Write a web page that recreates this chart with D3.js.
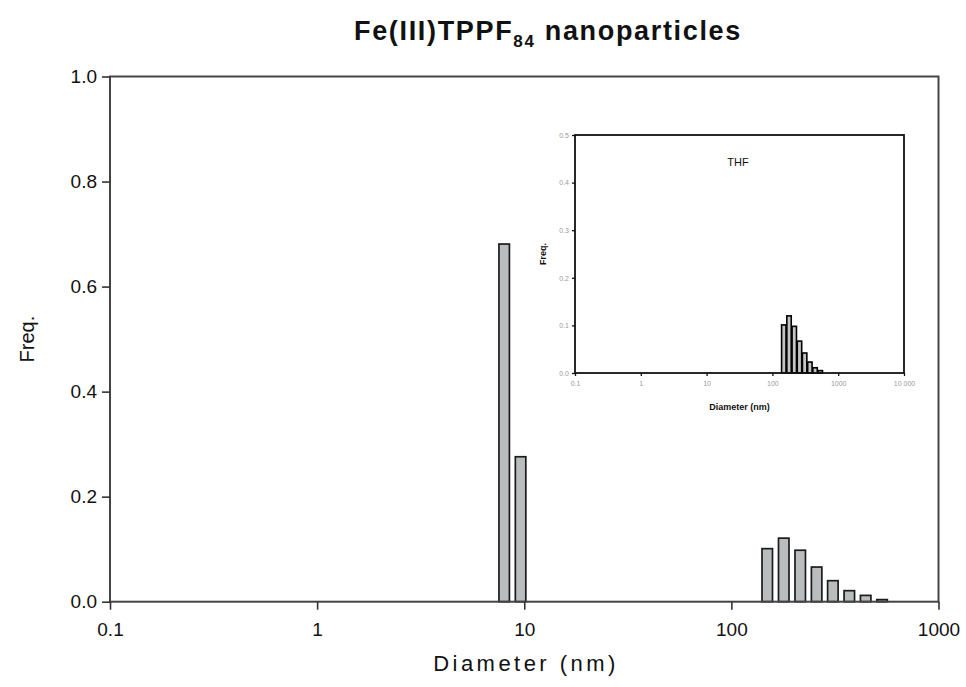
<!DOCTYPE html>
<html><head><meta charset="utf-8">
<script src="https://cdn.jsdelivr.net/npm/d3@7"></script>
<style>body{margin:0;background:#fff}svg{display:block}text{font-family:"Liberation Sans",Arial,sans-serif}</style>
</head><body><svg id="c" width="966" height="687"></svg>
<script>
// ---- data ----
const diameters = [8.0, 9.6, 149, 179, 215, 258, 309, 371, 445, 534];
const freqMain = [0.681, 0.276, 0.101, 0.121, 0.098, 0.066, 0.040, 0.021, 0.012, 0.004];
const insetDiameters = [149, 179, 215, 258, 309, 371, 445, 534];
const freqInset = [0.101, 0.120, 0.098, 0.067, 0.042, 0.023, 0.011, 0.005];
const mainXTicks = [0.1, 1, 10, 100, 1000];
const mainXTickLabels = ["0.1", "1", "10", "100", "1000"];
const mainYTicks = [0, 0.2, 0.4, 0.6, 0.8, 1.0];
const insetXTicks = [0.1, 1, 10, 100, 1000, 10000];
const insetXTickLabels = ["0.1", "1", "10", "100", "1000", "10 000"];
const insetYTicks = [0, 0.1, 0.2, 0.3, 0.4, 0.5];

const svg = d3.select("#c");

// ---- main chart ----
const M = {l: 110, r: 938.5, t: 76.5, b: 601.7};
const x = d3.scaleLog().domain([0.1, 1000]).range([M.l, M.r]);
const y = d3.scaleLinear().domain([0, 1]).range([M.b, M.t]);
const halfW = 1.06;

const mainData = diameters.map((d, i) => ({d, f: freqMain[i]}));
svg.append("g").selectAll("rect").data(mainData).join("rect")
  .attr("x", p => x(p.d / halfW))
  .attr("width", p => x(p.d * halfW) - x(p.d / halfW))
  .attr("y", p => y(p.f))
  .attr("height", p => y(0) - y(p.f))
  .attr("fill", "#b9bdbd").attr("stroke", "#1c1c1c").attr("stroke-width", 1.7);

// frame
svg.append("rect").attr("x", M.l).attr("y", M.t).attr("width", M.r - M.l).attr("height", M.b - M.t)
  .attr("fill", "none").attr("stroke", "#444").attr("stroke-width", 2);

const xAxis = svg.append("g").attr("transform", `translate(0,${M.b})`)
  .call(d3.axisBottom(x).tickValues(mainXTicks).tickFormat((d, i) => mainXTickLabels[i]).tickSize(8).tickPadding(13).tickSizeOuter(0));
const yAxis = svg.append("g").attr("transform", `translate(${M.l},0)`)
  .call(d3.axisLeft(y).tickValues(mainYTicks).tickFormat(d3.format(".1f")).tickSize(8).tickPadding(5).tickSizeOuter(0));
[xAxis, yAxis].forEach(a => {
  a.select(".domain").remove();
  a.selectAll("line").attr("stroke", "#333").attr("stroke-width", 1.6);
  a.selectAll("text").attr("font-size", 19).attr("fill", "#111").attr("font-family", "Liberation Sans, Arial, sans-serif");
});

svg.append("text").attr("transform", `translate(34,${(M.t + M.b) / 2}) rotate(-90)`)
  .attr("text-anchor", "middle").attr("font-size", 20).attr("fill", "#111").text("Freq.");
svg.append("text").attr("x", (M.l + M.r) / 2).attr("y", 671)
  .attr("text-anchor", "middle").attr("font-size", 22).attr("fill", "#111")
  .attr("textLength", 182).attr("lengthAdjust", "spacing").text("Diameter (nm)");

// title
const title = svg.append("text").attr("x", 354).attr("y", 40).attr("font-size", 27)
  .attr("font-weight", "bold").attr("fill", "#111");
title.append("tspan").text("Fe(III)TPPF");
title.append("tspan").attr("font-size", 17).attr("dy", 7).text("84");
title.append("tspan").attr("dy", -7).text(" nanoparticles");
const tw = title.node().getComputedTextLength();
const nChars = "Fe(III)TPPF84 nanoparticles".length;
title.attr("letter-spacing", Math.max(0, (388 - tw) / nChars));

// ---- inset ----
const I = {l: 575, r: 904, t: 135, b: 373};
const xi = d3.scaleLog().domain([0.1, 10000]).range([I.l, I.r]);
const yi = d3.scaleLinear().domain([0, 0.5]).range([I.b, I.t]);
const halfWi = 1.08;
const insetData = insetDiameters.map((d, i) => ({d, f: freqInset[i]}));
svg.append("g").selectAll("rect").data(insetData).join("rect")
  .attr("x", p => xi(p.d / halfWi))
  .attr("width", p => xi(p.d * halfWi) - xi(p.d / halfWi))
  .attr("y", p => yi(p.f))
  .attr("height", p => yi(0) - yi(p.f))
  .attr("fill", "#c4c4c4").attr("stroke", "#000").attr("stroke-width", 1.6);
svg.append("rect").attr("x", I.l).attr("y", I.t).attr("width", I.r - I.l).attr("height", I.b - I.t)
  .attr("fill", "none").attr("stroke", "#111").attr("stroke-width", 1.8);
const xiAxis = svg.append("g").attr("transform", `translate(0,${I.b})`)
  .call(d3.axisBottom(xi).tickValues(insetXTicks).tickFormat((d, i) => insetXTickLabels[i]).tickSize(3).tickPadding(5).tickSizeOuter(0));
const yiAxis = svg.append("g").attr("transform", `translate(${I.l},0)`)
  .call(d3.axisLeft(yi).tickValues(insetYTicks).tickFormat(d3.format(".1f")).tickSize(3).tickPadding(3).tickSizeOuter(0));
[xiAxis, yiAxis].forEach(a => {
  a.select(".domain").remove();
  a.selectAll("line").attr("stroke", "#111").attr("stroke-width", 1.3);
  a.selectAll("text").attr("font-size", 7).attr("fill", "#999").attr("font-family", "Liberation Sans, Arial, sans-serif");
});
svg.append("text").attr("transform", `translate(546,${(I.t + I.b) / 2}) rotate(-90)`)
  .attr("text-anchor", "middle").attr("font-size", 9).attr("font-weight", "bold").attr("fill", "#111").text("Freq.");
svg.append("text").attr("x", (I.l + I.r) / 2).attr("y", 410)
  .attr("text-anchor", "middle").attr("font-size", 9).attr("font-weight", "bold").attr("fill", "#111").text("Diameter (nm)");
svg.append("text").attr("x", 738).attr("y", 166)
  .attr("text-anchor", "middle").attr("font-size", 11).attr("fill", "#111").text("THF");
</script>
</body></html>
